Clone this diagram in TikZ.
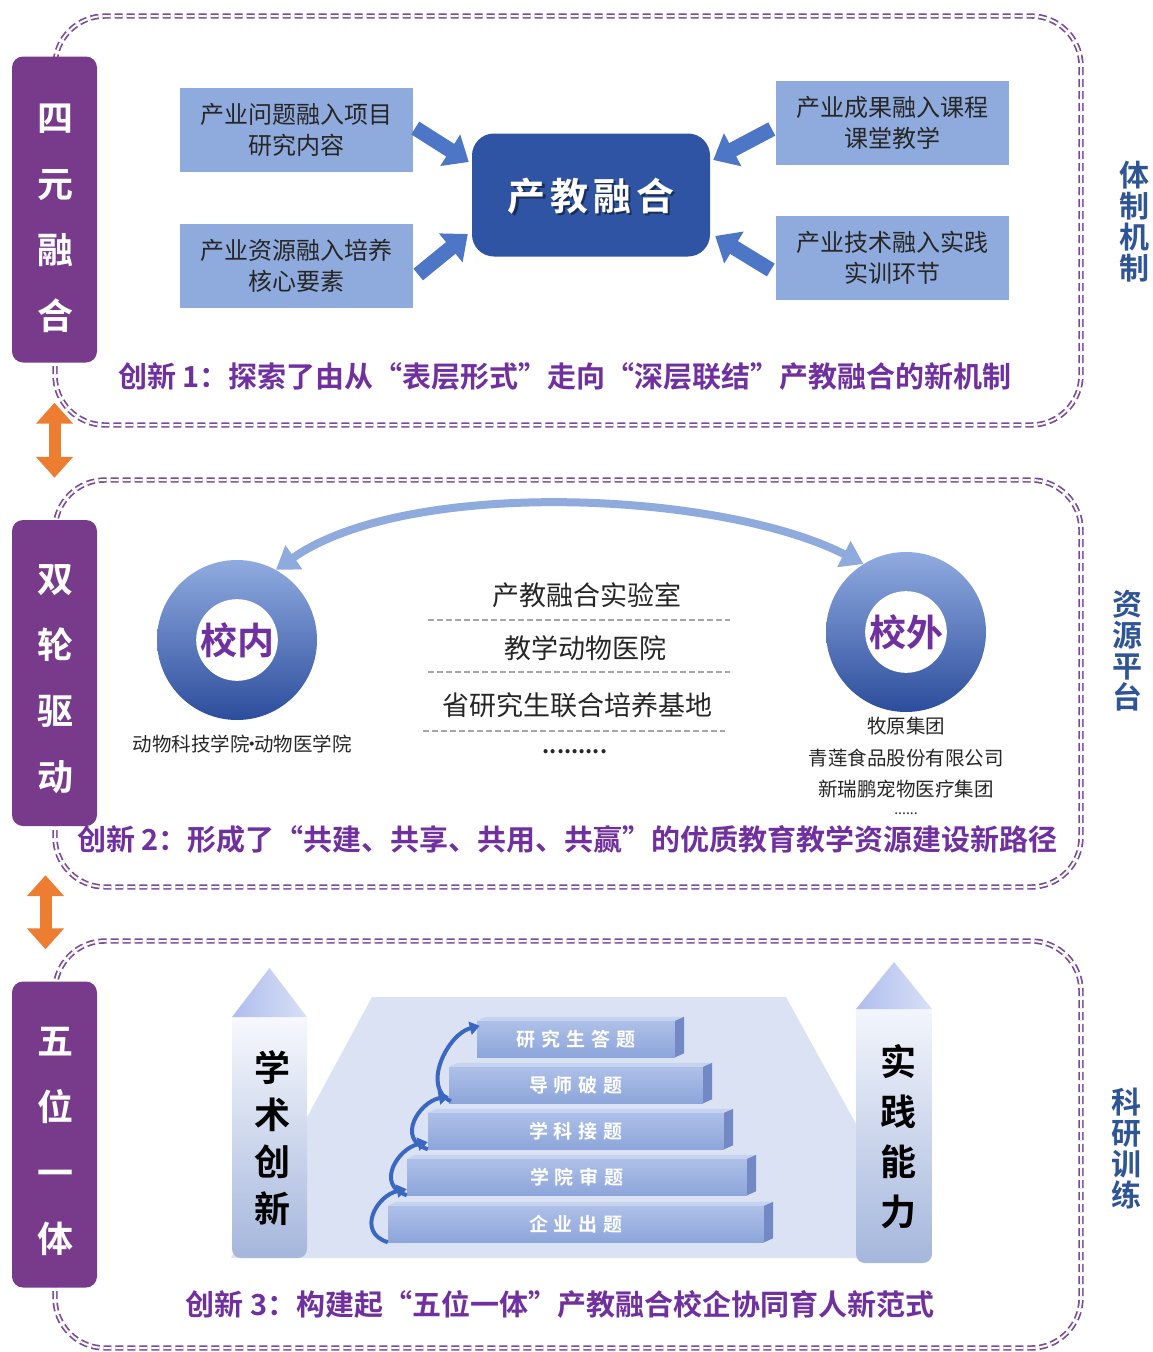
\documentclass[tikz,border=0pt]{standalone}
\usepackage{fontspec}
\setmainfont{Noto Sans CJK SC}[BoldFont={* Bold}]
\usetikzlibrary{arrows.meta,calc}
\definecolor{barpurple}{HTML}{783A8A}
\definecolor{capurple}{HTML}{7030A0}
\definecolor{dashpurple}{HTML}{7A4A9C}
\definecolor{darkblue}{HTML}{2E54A3}
\definecolor{boxblue}{HTML}{8FAADC}
\definecolor{labelblue}{HTML}{2F5597}
\definecolor{orangearr}{HTML}{ED7D31}
\definecolor{blockarr}{HTML}{4E76C7}
\definecolor{arcblue}{HTML}{8FAADC}
\definecolor{stepfronta}{HTML}{AEC0E8}
\definecolor{stepfrontb}{HTML}{8DA5DA}
\definecolor{steptop}{HTML}{C6D3F0}
\definecolor{stepside}{HTML}{7389C6}
\definecolor{trapfill}{HTML}{DAE2F3}
\definecolor{curlblue}{HTML}{3A67C1}
\definecolor{ringtop}{HTML}{90ABE0}
\definecolor{ringbot}{HTML}{2C4D9C}
\definecolor{textdark}{HTML}{262626}
\begin{document}
\begin{tikzpicture}[x=1pt,y=-1pt,
  dborder/.style={draw=dashpurple, line width=1.7pt, double=white, double distance=2pt, dash pattern=on 8pt off 4pt, rounded corners=50pt},
  sidebar/.style={fill=barpurple, rounded corners=11pt, minimum width=85pt, minimum height=306pt, inner sep=0pt},
  sidetext/.style={text=white, font=\bfseries\fontsize{36}{66}\selectfont, align=center, inner sep=0pt},
  orangedbl/.style={draw=orangearr, line width=12pt, {Triangle[width=36pt,length=21pt]}-{Triangle[width=36pt,length=21pt]}},
  lbox/.style={fill=boxblue, minimum width=233pt, minimum height=84pt, inner sep=0pt, align=center, text=textdark, font=\fontsize{24}{31}\selectfont},
  barrow/.style={draw=blockarr, line width=15pt, -{Triangle[width=36pt,length=22pt]}},
  caption/.style={text=capurple, font=\bfseries\fontsize{29}{29}\selectfont, inner sep=0pt},
  sidelabel/.style={text=labelblue, font=\bfseries\fontsize{30}{31}\selectfont, align=center, inner sep=0pt},
  ring/.style={circle, minimum size=160pt, inner sep=0pt, top color=ringtop, bottom color=ringbot},
  hole/.style={circle, minimum size=80pt, inner sep=0pt, fill=white, text=capurple, font=\bfseries\fontsize{37}{37}\selectfont},
  listtxt/.style={text=textdark, font=\fontsize{27}{27}\selectfont, inner sep=0pt},
  smalltxt/.style={text=textdark, font=\fontsize{19.5}{19.5}\selectfont, inner sep=0pt},
  graydash/.style={draw=black!35, line width=1.6pt, dash pattern=on 6pt off 3pt},
  arcarrow/.style={draw=arcblue, line width=8pt, {Triangle[width=28pt,length=22pt]}-{Triangle[width=28pt,length=22pt]}},
  stepbox/.style={top color=stepfronta, bottom color=stepfrontb, minimum height=36pt, inner sep=0pt, text=white, font=\bfseries\fontsize{19}{19}\selectfont},
  carrow/.style={draw=curlblue, line width=4pt, -{Triangle[width=13pt,length=10pt]}},
  coltext/.style={text=black, font=\bfseries\fontsize{36}{47}\selectfont, align=center, inner sep=0pt},
]
\useasboundingbox (0,0) rectangle (1152,1352);

% dashed section borders
\draw[dborder] (55,16) rectangle (1081,425);
\draw[dborder] (55,480) rectangle (1081,887);
\draw[dborder] (55,941) rectangle (1081,1348);

% left purple bars
\node[sidebar] (b1) at (54.5,209.5) {};
\node[sidetext] (b1t) at (55,218) {四\\元\\融\\合};
\node[sidebar] (b2) at (54.5,673) {};
\node[sidetext] (b2t) at (55,679) {双\\轮\\驱\\动};
\node[sidebar] (b3) at (54.5,1134.5) {};
\node[sidetext] (b3t) at (55,1141) {五\\位\\一\\体};

% orange double arrows
\draw[orangedbl] ($(b1.south)+(0,40)$) -- ($(b2.north)+(0,-42)$);
\draw[orangedbl] ($(b2.south)+(-9,49)$) -- ($(b3.north)+(-9,-32)$);

% right labels
\node[sidelabel] (r1) at (1134,222) {体\\制\\机\\制};
\node[sidelabel] (r2) at (1127,651) {资\\源\\平\\台};
\node[sidelabel] (r3) at (1126,1149) {科\\研\\训\\练};

% ---------- section 1 ----------
\node[lbox] (q1) at (296.5,130) {产业问题融入项目\\研究内容};
\node[lbox] (q2) at (296.5,265.5) {产业资源融入培养\\核心要素};
\node[lbox] (q3) at (892.5,123) {产业成果融入课程\\课堂教学};
\node[lbox] (q4) at (892.5,258) {产业技术融入实践\\实训环节};
\node[fill=darkblue, rounded corners=22pt, minimum width=238pt, minimum height=123pt, inner sep=0pt] (cb) at (591,195) {};
\node[text=black, opacity=0.45, font=\bfseries\fontsize{38}{38}\selectfont, inner sep=0pt] (cbs) at (593.5,198.5) {产\kern5pt 教\kern5pt 融\kern5pt 合};
\node[text=white, font=\bfseries\fontsize{38}{38}\selectfont, inner sep=0pt] (cbt) at (591,196) {产\kern5pt 教\kern5pt 融\kern5pt 合};
\draw[barrow] ($(q1.east)+(2,-2)$) -- ($(cb.west)+(-3,-33)$);
\draw[barrow] ($(q2.east)+(5,9)$) -- ($(cb.west)+(-4,39)$);
\draw[barrow] ($(q3.west)+(-4,6)$) -- ($(cb.east)+(3,-35)$);
\draw[barrow] ($(q4.west)+(-5,12)$) -- ($(cb.east)+(5,41)$);
\node[caption] (c1) at (565,377) {创新 1：探索了由从“表层形式”走向“深层联结”产教融合的新机制};

% ---------- section 2 ----------
\node[ring] (cin) at (237,640) {};
\node[hole] (cinh) at (cin) {校内};
\node[ring] (cout) at (906,632) {};
\node[hole] (couth) at (cout) {校外};
\draw[arcarrow] (cin.61) to[out=35, in=153, looseness=0.7] (cout.122);
\node[smalltxt] (inlab) at (242,744) {动物科技学院\kern-7.5pt·\kern-7.5pt 动物医学院};
\node[smalltxt] (o1) at (906,726) {牧原集团};
\node[smalltxt] (o2) at (906,758) {青莲食品股份有限公司};
\node[smalltxt] (o3) at (906,789) {新瑞鹏宠物医疗集团};
\node[text=textdark, font=\fontsize{14}{14}\selectfont, inner sep=0pt] (o4) at (906,814) {......};
\node[listtxt] (l1) at (587,595) {产教融合实验室};
\node[listtxt] (l2) at (585,648) {教学动物医院};
\node[listtxt] (l3) at (577,705) {省研究生联合培养基地};
\node[text=textdark, font=\bfseries\fontsize{22}{22}\selectfont, inner sep=0pt] (l4) at (575,752) {.........};
\coordinate (d1a) at (428,620); \coordinate (d1b) at (730,620);
\coordinate (d2a) at (428,672); \coordinate (d2b) at (730,672);
\coordinate (d3a) at (423,731); \coordinate (d3b) at (725,731);
\draw[graydash] (d1a) -- (d1b);
\draw[graydash] (d2a) -- (d2b);
\draw[graydash] (d3a) -- (d3b);
\node[caption] (c2) at (567.5,839) {创新 2：形成了“共建、共享、共用、共赢”的优质教育教学资源建设新路径};

% ---------- section 3 ----------
\fill[trapfill] (372,997) -- (786,997) -- (930,1258) -- (231,1258) -- cycle;
% left column
\begin{scope}
  \clip[rounded corners=9pt] (232,990) rectangle (307,1258);
  \shade[top color=white!90!stepfronta, bottom color=stepfronta!95!black] (232,1017) rectangle (307,1258);
\end{scope}
\shade[left color=stepfronta!90!blue!80!white, right color=steptop!70!white] (232,1017) -- (307,1017) -- (269.5,968) -- cycle;
\node[coltext] (ct1) at (272,1138) {学\\术\\创\\新};
% right column
\begin{scope}
  \clip[rounded corners=9pt] (856,985) rectangle (932,1263);
  \shade[top color=white!85!stepfronta, bottom color=stepfronta!95!black] (856,1009) rectangle (932,1263);
\end{scope}
\shade[left color=stepfronta!90!blue!80!white, right color=steptop!70!white] (856,1009) -- (932,1009) -- (894,962) -- cycle;
\node[coltext, font=\bfseries\fontsize{36}{50}\selectfont] (ct2) at (898,1137) {实\\践\\能\\力};

% steps
\node[stepbox, minimum width=198pt] (s1) at (576,1039) {研\kern6pt 究\kern6pt 生\kern6pt 答\kern6pt 题};
\node[stepbox, minimum width=254pt] (s2) at (576,1085) {导\kern6pt 师\kern6pt 破\kern6pt 题};
\node[stepbox, minimum width=296pt] (s3) at (576,1131) {学\kern6pt 科\kern6pt 接\kern6pt 题};
\node[stepbox, minimum width=340pt] (s4) at (577,1177) {学\kern6pt 院\kern6pt 审\kern6pt 题};
\node[stepbox, minimum width=376pt] (s5) at (576,1224) {企\kern6pt 业\kern6pt 出\kern6pt 题};
\foreach \s in {s1,s2,s3,s4,s5}{
  \fill[steptop] (\s.north west) -- (\s.north east) -- ++(9,-4) -- ($(\s.north west)+(9,-4)$) -- cycle;
  \fill[stepside] (\s.north east) -- ++(9,-4) -- ($(\s.south east)+(9,-4)$) -- (\s.south east) -- cycle;
}
\draw[carrow] (s5.south west) .. controls +(-32,-10) and +(-30,6) .. ($(s4.south west)+(0,-6)$);
\draw[carrow] (s4.south west) .. controls +(-32,-10) and +(-30,6) .. ($(s3.south west)+(0,-7)$);
\draw[carrow] (s3.south west) .. controls +(-32,-10) and +(-30,6) .. ($(s2.south west)+(0,-7)$);
\draw[carrow] ($(s2.south west)+(2,-2)$) .. controls +(-30,-14) and +(-32,8) .. ($(s1.north west)+(3,5)$);
\node[caption] (c3) at (560,1304) {创新 3：构建起“五位一体”产教融合校企协同育人新范式};
\end{tikzpicture}
\end{document}
